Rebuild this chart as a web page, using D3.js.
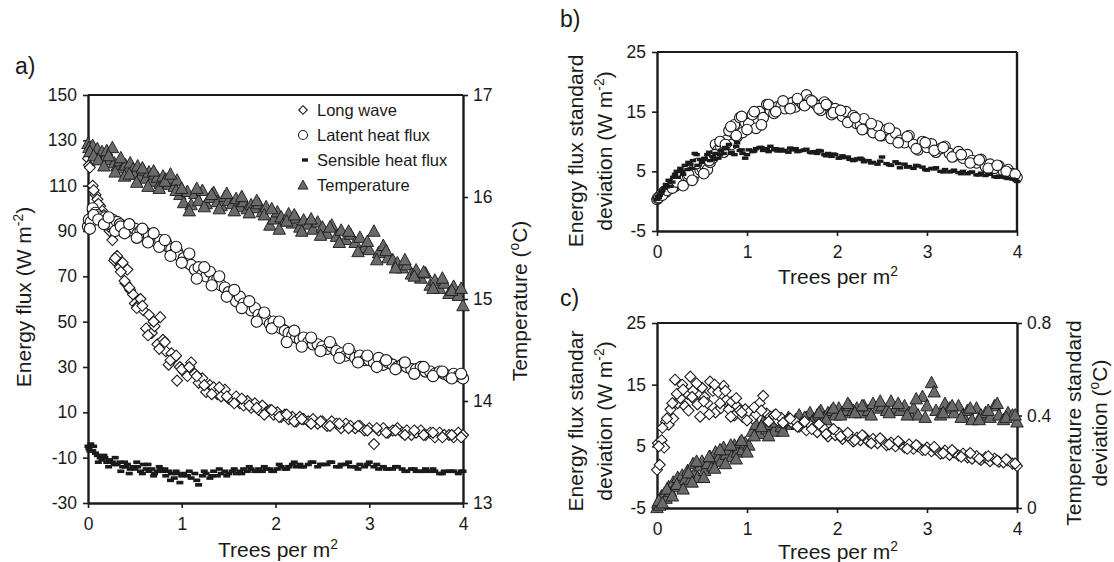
<!DOCTYPE html>
<html><head><meta charset="utf-8">
<script src="https://cdn.jsdelivr.net/npm/d3@7"></script>
<style>body{margin:0;background:#fff;} svg{display:block;font-family:"Liberation Sans",Arial,Helvetica,sans-serif;}</style>
</head><body><svg id="chart" width="1114" height="562"></svg>
<script>
// ---------- DATA ----------
// tree density, run 1
const trees = [0,0.01,0.03,0.05,0.08,0.1,0.13,0.15,0.18,0.2,
0.23,0.26,0.28,0.31,0.34,0.37,0.4,0.42,0.45,0.48,
0.5,0.53,0.56,0.59,0.62,0.65,0.68,0.71,0.74,0.77,
0.8,0.83,0.86,0.89,0.92,0.95,0.98,1.02,1.06,1.1,
1.14,1.18,1.22,1.26,1.3,1.34,1.38,1.42,1.46,1.5,
1.54,1.58,1.62,1.66,1.7,1.74,1.78,1.82,1.86,1.9,
1.94,1.98,2.02,2.06,2.1,2.14,2.18,2.22,2.26,2.3,
2.35,2.4,2.45,2.5,2.55,2.6,2.65,2.7,2.75,2.8,
2.85,2.9,2.95,3,3.05,3.1,3.15,3.2,3.25,3.3,
3.35,3.4,3.45,3.5,3.55,3.6,3.65,3.7,3.75,3.8,
3.85,3.9,3.95,4];
// tree density, run 2
const trees2 = [0.02,0.06,0.11,0.17,0.22,0.29,0.35,0.39,0.44,0.52,
0.58,0.64,0.7,0.76,0.82,0.88,0.94,1.0,1.08,1.16,
1.24,1.32,1.4,1.48,1.56,1.64,1.72,1.8,1.88,1.96,
2.04,2.12,2.2,2.28,2.38,2.48,2.58,2.68,2.78,2.88,
2.98,3.08,3.18,3.28,3.38,3.48,3.58,3.68,3.78,3.88,
3.98];

// panel a (W m-2 and deg C)
const longWave = [122,119,124,110,106,104,101,99,96,94,
90,86,77,79,74,76,67,73,64,62,
58,57,60,55,47,53,45,48,40,52,
42,37,31,36,34,24,30,28,26,32,
27,23,25,19,22,21,18,17,20,16,
15,17,14,13,15,12,14,11,13,10,
11,9,10,8,9,7,8,6,8,7,
6,7,5,6,4,6,5,3,5,4,
3,4,2,3,-4,2,3,1,2,3,
1,2,0,1,2,0,1,-1,1,0,
0,-1,1,0];
const longWave2 = [118,108,102,97,92,78,72,68,65,56,
57,44,50,38,41,33,35,29,30,26,
22,18,21,17,14,16,13,12,9,11,
8,9,6,7,5,6,4,5,3,4,
2,3,1,2,0,2,0,1,-1,0,
-1];
const latentHeat = [92,95,94,100,98,97,96,95,96,94,
93,95,92,94,93,91,92,90,91,90,
91,89,90,88,89,88,86,87,85,86,
84,85,83,82,80,81,79,78,76,75,
73,74,71,70,72,68,69,66,65,63,
62,59,61,58,57,55,56,53,52,51,
49,50,48,47,46,45,44,43,42,43,
41,40,40,39,38,39,37,36,35,36,
34,35,33,33,32,34,31,32,31,30,
31,30,29,29,30,28,28,27,28,27,
26,27,26,25];
const latentHeat2 = [91,97,95,93,96,90,92,89,93,87,
91,85,89,83,86,79,83,76,80,69,
74,66,70,61,64,56,59,50,54,47,
50,41,46,39,43,37,41,34,38,32,
35,30,33,29,32,27,30,26,28,25,
27];
const sensibleHeat = [-5,-6,-4,-7,-8,-9,-10,-11,-10,-12,
-11,-12,-13,-13,-12,-14,-14,-13,-15,-14,
-15,-14,-16,-13,-15,-16,-15,-17,-16,-15,
-16,-18,-16,-17,-19,-17,-21,-17,-18,-19,
-17,-22,-18,-17,-19,-16,-18,-17,-16,-17,
-16,-17,-16,-15,-16,-15,-16,-15,-16,-15,
-15,-16,-15,-14,-15,-14,-13,-14,-13,-14,
-13,-12,-14,-13,-13,-12,-14,-13,-13,-14,
-14,-13,-14,-12,-14,-15,-14,-15,-15,-14,
-15,-16,-15,-16,-16,-15,-16,-16,-17,-16,
-16,-16,-17,-16];
const sensibleHeat2 = [-7,-5,-12,-9,-14,-10,-16,-12,-17,-12,
-17,-13,-18,-14,-15,-20,-16,-18,-16,-20,
-16,-18,-15,-18,-15,-17,-14,-16,-14,-16,
-13,-15,-12,-14,-12,-13,-12,-14,-12,-15,
-13,-13,-15,-14,-16,-15,-16,-15,-17,-16,
-16];
const temperature = [16.52,16.48,16.45,16.50,16.42,16.47,16.40,16.44,16.38,16.45,
16.36,16.48,16.33,16.30,16.35,16.28,16.31,16.25,16.33,16.27,
16.22,16.30,16.20,16.26,16.18,16.24,16.15,16.22,16.19,16.13,
16.20,16.17,16.12,16.18,16.10,16.16,16.02,15.94,16.05,15.92,
16.03,15.96,16.06,15.93,15.99,16.04,15.95,15.91,16.00,15.96,
15.93,15.98,15.90,15.95,15.88,15.92,15.89,15.93,15.85,15.90,
15.72,15.78,15.85,15.80,15.76,15.83,15.74,15.79,15.70,15.77,
15.73,15.68,15.75,15.70,15.64,15.72,15.61,15.67,15.58,15.63,
15.55,15.60,15.50,15.48,15.66,15.45,15.52,15.40,15.38,15.35,
15.30,15.33,15.24,15.28,15.20,15.25,15.13,15.18,15.10,15.15,
15.05,15.12,15.03,14.93];
const temperature2 = [16.44,16.40,16.36,16.30,16.40,16.24,16.38,16.20,16.22,16.14,
16.28,16.10,16.25,16.08,16.15,16.22,16.06,16.08,15.86,16.08,
15.90,16.02,15.88,16.03,15.86,16.00,15.84,15.96,15.82,15.88,
15.68,15.76,15.82,15.66,15.78,15.62,15.70,15.55,15.66,15.46,
15.56,15.38,15.47,15.30,15.38,15.22,15.26,15.10,15.20,15.08,
15.10];

// panel b (standard deviation, W m-2)
const latentSD = [0.3,0.5,0.8,1.2,1.6,1.5,2.0,2.3,2.8,2.5,
3.0,3.3,2.8,3.8,4.2,4.8,3.8,5.5,4.9,5.2,
5.5,6.0,5.3,6.5,7.2,9.5,8.6,9.0,8.2,10.2,
11.8,9.5,12.8,10.8,14.0,11.5,13.2,13.0,14.5,12.2,
15.0,14.0,16.2,15.2,14.7,15.8,16.0,15.5,16.3,16.5,
15.8,16.8,16.2,17.8,17.0,16.5,16.0,15.2,16.6,16.0,
14.5,15.5,14.8,14.2,15.0,13.5,14.3,13.0,12.8,13.8,
12.2,11.5,12.6,11.0,12.0,10.5,11.4,10.2,9.8,11.0,
9.5,8.6,10.0,9.0,9.6,8.2,8.8,9.2,8.0,7.6,
8.3,7.2,7.8,6.8,6.4,7.0,5.8,6.2,5.5,5.9,
5.0,5.3,4.6,4.0];
const latentSD2 = [0.6,1.0,1.8,2.2,3.2,2.6,4.5,3.5,6.3,4.6,
6.8,7.8,10.0,9.5,12.5,11.0,14.2,12.0,15.0,12.8,
16.2,15.0,16.8,15.5,17.2,16.0,16.8,15.5,16.2,14.8,
15.2,13.2,14.0,12.0,13.0,11.0,12.2,9.8,10.8,8.8,
9.8,8.5,9.0,7.4,7.8,6.4,6.9,5.5,6.0,5.0,
4.5];
const sensibleSD = [0.3,0.8,1.0,1.5,2.2,2.8,3.5,2.5,4.0,4.5,
4.0,5.5,5.0,6.0,5.3,6.2,6.8,8.0,6.0,7.0,
6.5,7.2,7.8,6.8,7.5,8.0,7.2,8.5,8.0,8.8,
9.5,8.2,7.8,9.8,8.5,8.0,7.2,8.6,8.3,8.8,
9.0,8.5,8.8,9.2,8.6,8.4,8.7,8.5,8.2,8.6,
8.8,8.4,8.5,8.7,8.2,8.3,8.0,8.4,7.8,8.0,
7.5,7.8,7.2,7.6,7.3,7.0,6.8,7.1,7.2,6.6,
6.8,6.5,6.2,7.4,6.3,6.0,6.6,5.6,6.2,5.8,
5.5,5.9,5.7,5.2,5.5,5.6,5.0,5.3,4.9,5.2,
4.8,5.0,4.6,4.9,4.4,4.7,4.3,4.5,4.1,4.2,
4.0,3.8,3.7,3.3];
const sensibleSD2 = [0.6,1.8,2.4,3.2,5.0,4.5,6.5,5.5,7.8,7.0,
8.2,7.0,7.8,9.0,8.0,9.2,8.6,7.8,8.4,9.0,
8.3,8.8,8.4,8.9,8.3,8.6,8.1,8.5,7.6,7.9,
7.3,7.4,6.9,7.0,6.4,6.7,6.1,6.3,5.7,6.0,
5.3,5.4,4.9,5.0,4.6,4.8,4.4,4.5,4.0,3.9,
3.6];

// panel c (standard deviation: W m-2 and deg C)
const longWaveSD = [1.2,5.5,2.0,6.0,4.8,9.0,8.5,11.0,9.5,15.8,
12.0,12.8,15.0,11.5,13.5,16.3,14.0,12.5,11.8,9.8,
14.5,13.0,12.0,15.5,14.0,10.5,13.8,11.2,14.8,12.5,
11.0,12.2,10.0,11.5,10.8,9.8,11.0,10.5,9.5,10.2,
12.0,13.2,10.3,9.8,10.0,9.2,9.6,9.0,9.4,8.8,
9.0,8.2,8.8,7.6,8.5,8.0,7.3,8.2,7.8,6.6,
7.5,6.8,7.2,6.2,6.8,6.5,5.8,6.4,6.0,6.6,
5.8,6.2,5.5,6.0,5.2,5.6,5.0,5.5,4.8,5.3,
4.6,5.0,4.4,4.8,4.2,4.5,3.8,4.3,3.6,4.0,
3.5,3.8,3.2,3.0,3.4,2.8,3.2,2.6,3.0,2.5,
2.4,2.7,2.2,1.8];
const longWaveSD2 = [5.0,8.0,9.5,12.0,13.5,14.2,10.8,13.0,15.2,12.3,
10.2,15.0,12.0,14.0,9.8,12.8,10.5,9.2,11.3,10.8,
9.0,10.2,8.8,9.5,8.2,9.0,7.8,8.6,7.0,7.8,
6.6,7.2,6.0,6.8,5.5,6.3,5.3,5.8,4.6,5.2,
4.4,4.9,3.9,4.4,3.3,3.9,3.0,3.4,2.7,2.9,
2.2];
const temperatureSD = [0.00,0.02,0.01,0.05,0.06,0.04,0.09,0.07,0.11,0.09,
0.13,0.10,0.14,0.12,0.16,0.12,0.19,0.15,0.13,0.18,
0.20,0.16,0.19,0.22,0.18,0.24,0.21,0.20,0.26,0.23,
0.25,0.22,0.27,0.24,0.28,0.25,0.28,0.27,0.33,0.36,
0.32,0.37,0.34,0.36,0.33,0.38,0.35,0.37,0.39,0.36,
0.38,0.40,0.37,0.39,0.41,0.38,0.40,0.42,0.39,0.41,
0.42,0.40,0.43,0.41,0.42,0.44,0.42,0.43,0.41,0.44,
0.42,0.45,0.43,0.44,0.42,0.46,0.43,0.42,0.44,0.41,
0.43,0.40,0.48,0.44,0.54,0.42,0.40,0.45,0.43,0.41,
0.44,0.40,0.42,0.38,0.43,0.40,0.41,0.39,0.44,0.40,
0.38,0.41,0.40,0.37];
const temperatureSD2 = [0.03,0.02,0.08,0.05,0.10,0.08,0.15,0.11,0.20,0.13,
0.22,0.17,0.25,0.19,0.27,0.21,0.29,0.24,0.31,0.35,
0.31,0.37,0.33,0.38,0.36,0.39,0.37,0.41,0.38,0.43,
0.40,0.45,0.41,0.44,0.40,0.46,0.41,0.45,0.40,0.47,
0.39,0.50,0.41,0.44,0.39,0.43,0.38,0.42,0.45,0.39,
0.40];

const xTicks = [0,1,2,3,4];
const fluxTicksA = [-30,-10,10,30,50,70,90,110,130,150];
const tempTicksA = [13,14,15,16,17];
const sdTicks = [-5,5,15,25];
const tempSDTicks = [0,0.4,0.8];
const legendItems = ["Long wave","Latent heat flux","Sensible heat flux","Temperature"];

// ---------- DRAWING ----------
const svg = d3.select('#chart');
const INK = '#1a1a1a';
const TICK_FS = 17.5, TITLE_FS = 21;
const TRI_FILL = '#6a6a6a';

const boxA = {l:88, r:463, t:95, b:503};
const boxB = {l:657, r:1017, t:52, b:231};
const boxC = {l:657, r:1017, t:323, b:508};

const xA = d3.scaleLinear().domain([0,4]).range([boxA.l, boxA.r]);
const yA = d3.scaleLinear().domain([-30,150]).range([boxA.b, boxA.t]);
const tA = d3.scaleLinear().domain([13,17]).range([boxA.b, boxA.t]);
const xB = d3.scaleLinear().domain([0,4]).range([boxB.l, boxB.r]);
const yB = d3.scaleLinear().domain([-5,25]).range([boxB.b, boxB.t]);
const xC = d3.scaleLinear().domain([0,4]).range([boxC.l, boxC.r]);
const yC = d3.scaleLinear().domain([-5,25]).range([boxC.b, boxC.t]);
const tC = d3.scaleLinear().domain([0,0.8]).range([boxC.b, boxC.t]);

const fmt = d => String(d);

function styleAxis(g){
  g.select('.domain').attr('stroke', INK).attr('stroke-width', 2.4);
  g.selectAll('.tick line').attr('stroke', INK).attr('stroke-width', 1.6);
  g.selectAll('.tick text').attr('fill', INK).attr('font-size', TICK_FS)
    .attr('font-family','"Liberation Sans",Arial,sans-serif');
}
function frame(box, x, y, yTicks, rScale, rTicks){
  svg.append('line').attr('x1',box.l).attr('x2',box.r).attr('y1',box.t).attr('y2',box.t)
    .attr('stroke', INK).attr('stroke-width', 1.8);
  svg.append('g').attr('transform',`translate(0,${box.b})`)
    .call(d3.axisBottom(x).tickValues(xTicks).tickFormat(fmt).tickSize(5).tickSizeOuter(0).tickPadding(10))
    .call(styleAxis);
  svg.append('g').attr('transform',`translate(${box.l},0)`)
    .call(d3.axisLeft(y).tickValues(yTicks).tickFormat(fmt).tickSize(5).tickSizeOuter(0).tickPadding(6))
    .call(styleAxis);
  if (rScale) {
    svg.append('g').attr('transform',`translate(${box.r},0)`)
      .call(d3.axisRight(rScale).tickValues(rTicks).tickFormat(fmt).tickSize(5).tickSizeOuter(0).tickPadding(5))
      .call(styleAxis);
  } else {
    svg.append('line').attr('x1',box.r).attr('x2',box.r).attr('y1',box.t).attr('y2',box.b)
      .attr('stroke', INK).attr('stroke-width', 2.4);
  }
}

const diamondPath = s => `M0,${-s}L${s},0L0,${s}L${-s},0Z`;
const trianglePath = (w,h) => `M0,${-h*0.6}L${w/2},${h*0.4}L${-w/2},${h*0.4}Z`;
const pairs = (a1, b1, a2, b2) => d3.zip(a1, b1).concat(d3.zip(a2, b2));

function diamonds(data, x, y, s){
  svg.append('g').selectAll('path').data(data).join('path')
    .attr('transform', d => `translate(${x(d[0])},${y(d[1])})`)
    .attr('d', diamondPath(s)).attr('fill','#fff').attr('stroke', INK).attr('stroke-width', 1.1);
}
function circles(data, x, y, r){
  svg.append('g').selectAll('circle').data(data).join('circle')
    .attr('cx', d => x(d[0])).attr('cy', d => y(d[1])).attr('r', r)
    .attr('fill','#fff').attr('stroke', INK).attr('stroke-width', 1.1);
}
function dashes(data, x, y, w, h){
  svg.append('g').selectAll('rect').data(data).join('rect')
    .attr('x', d => x(d[0]) - w/2).attr('y', d => y(d[1]) - h/2)
    .attr('width', w).attr('height', h).attr('fill', INK);
}
function triangles(data, x, y, w, h){
  svg.append('g').selectAll('path').data(data).join('path')
    .attr('transform', d => `translate(${x(d[0])},${y(d[1])})`)
    .attr('d', trianglePath(w,h)).attr('fill', TRI_FILL).attr('stroke', INK).attr('stroke-width', 0.9);
}

// text helpers
function richText(g, parts, size){
  const t = g.append('text').attr('font-size', size).attr('fill', INK).attr('text-anchor','middle');
  let shift = 0;
  parts.forEach(p => {
    const sp = t.append('tspan').text(p.t);
    if (p.sup) { sp.attr('font-size', size*0.66).attr('dy', -size*0.36 - shift); shift = -size*0.36; }
    else if (shift !== 0) { sp.attr('dy', -shift); shift = 0; }
  });
  return t;
}
function hTitle(cx, baseY, parts){
  const g = svg.append('g').attr('transform', `translate(${cx},${baseY})`);
  richText(g, parts, TITLE_FS);
}
function vTitle(baseX, cy, parts){
  const g = svg.append('g').attr('transform', `translate(${baseX},${cy}) rotate(-90)`);
  richText(g, parts, TITLE_FS);
}
function label(x, y, s){
  svg.append('text').attr('x', x).attr('y', y).attr('font-size', 23).attr('fill', INK).text(s);
}

const treesParts = [{t:'Trees per m'},{t:'2', sup:true}];
const wm2 = [{t:'(W m'},{t:'-2', sup:true},{t:')'}];
const degC = [{t:'('},{t:'o', sup:true},{t:'C)'}];

// ---- Panel a ----
frame(boxA, xA, yA, fluxTicksA, tA, tempTicksA);
diamonds(pairs(trees, longWave, trees2, longWave2), xA, yA, 5.5);
circles(pairs(trees, latentHeat, trees2, latentHeat2), xA, yA, 5.6);
dashes(pairs(trees, sensibleHeat, trees2, sensibleHeat2), xA, yA, 7, 3.6);
triangles(pairs(trees, temperature, trees2, temperature2), xA, tA, 12.5, 11.5);
label(15, 74, 'a)');
hTitle(278, 557, treesParts);
vTitle(31, 297, [{t:'Energy flux '}].concat(wm2));
vTitle(527, 301, [{t:'Temperature '}].concat(degC));

// legend
const legY = [110, 135, 160, 185];
const lg = svg.append('g');
lg.append('path').attr('transform',`translate(303,${legY[0]})`).attr('d', diamondPath(4.3))
  .attr('fill','#fff').attr('stroke',INK).attr('stroke-width',1.1);
lg.append('circle').attr('cx',303).attr('cy',legY[1]).attr('r',4.5)
  .attr('fill','#fff').attr('stroke',INK).attr('stroke-width',1.1);
lg.append('rect').attr('x',302).attr('y',legY[2]-1.7).attr('width',6).attr('height',3.4).attr('fill',INK);
lg.append('path').attr('transform',`translate(303,${legY[3]+0.5})`).attr('d', trianglePath(10,9))
  .attr('fill',TRI_FILL).attr('stroke',INK).attr('stroke-width',0.9);
lg.selectAll('text').data(legendItems).join('text')
  .attr('x', 317).attr('y', (d,i) => legY[i] + 6).attr('font-size', 16.5).attr('fill', INK).text(d => d);

// ---- Panel b ----
frame(boxB, xB, yB, sdTicks, null, null);
circles(pairs(trees, latentSD, trees2, latentSD2), xB, yB, 5.3);
dashes(pairs(trees, sensibleSD, trees2, sensibleSD2), xB, yB, 6.5, 3.4);
label(560, 27, 'b)');
hTitle(838, 284, treesParts);
vTitle(583, 151, [{t:'Energy flux standard'}]);
vTitle(612, 151, [{t:'deviation '}].concat(wm2));

// ---- Panel c ----
frame(boxC, xC, yC, sdTicks, tC, tempSDTicks);
triangles(pairs(trees, temperatureSD, trees2, temperatureSD2), xC, tC, 12.5, 11.5);
diamonds(pairs(trees, longWaveSD, trees2, longWaveSD2), xC, yC, 5.5);
label(560, 306, 'c)');
hTitle(838, 559, treesParts);
vTitle(583, 421, [{t:'Energy flux standar'}]);
vTitle(612, 421, [{t:'deviation '}].concat(wm2));
vTitle(1081, 423, [{t:'Temperature standard'}]);
vTitle(1107, 423, [{t:'deviation '}].concat(degC));
</script>
</body></html>
